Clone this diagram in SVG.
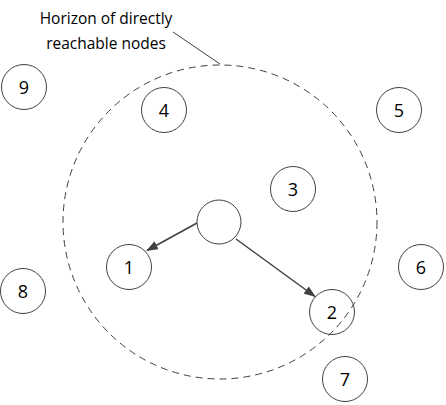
<svg xmlns="http://www.w3.org/2000/svg" width="446" height="405" viewBox="0 0 446 405">
<style>
.n{fill:#fff;stroke:#404040;stroke-width:1}
.t{font-family:"Open Sans","Liberation Sans",sans-serif;font-size:18px;fill:#000;text-anchor:middle;dominant-baseline:central}
.lbl{font-family:"Open Sans","Liberation Sans",sans-serif;font-size:15.5px;fill:#000;text-anchor:middle}
.c{stroke:#404040;stroke-width:1.5;fill:none}
</style>
<defs>
<marker id="ah" markerWidth="12" markerHeight="9" refX="11" refY="4.5" orient="auto" markerUnits="userSpaceOnUse">
<path d="M0,0 L12,4.5 L0,9 z" fill="#404040"/>
</marker>
</defs>
<rect width="446" height="405" fill="#fff"/>
<g id="label">
<text class="lbl" x="106" y="24">Horizon of directly</text>
<text class="lbl" x="106" y="49">reachable nodes</text>
<line x1="173" y1="32" x2="220" y2="64" stroke="#404040" stroke-width="1"/>
</g>
<g id="connectors">
<line class="c" x1="197" y1="223" x2="147" y2="250.5" marker-end="url(#ah)"/>
<line class="c" x1="236" y1="239" x2="315" y2="296.5" marker-end="url(#ah)"/>
</g>
<g id="n0"><circle class="n" cx="219" cy="222" r="22"/></g>
<g id="n1"><circle class="n" cx="129" cy="267" r="22.5"/><text class="t" x="129" y="267">1</text></g>
<g id="n2"><circle class="n" cx="332" cy="312" r="22.5"/><text class="t" x="332" y="312">2</text></g>
<g id="n3"><circle class="n" cx="293" cy="189" r="22.5"/><text class="t" x="293" y="189">3</text></g>
<g id="n4"><circle class="n" cx="164" cy="110" r="22.5"/><text class="t" x="164" y="110">4</text></g>
<g id="n5"><circle class="n" cx="399" cy="110" r="22.5"/><text class="t" x="399" y="110">5</text></g>
<g id="n6"><circle class="n" cx="421" cy="267" r="22.5"/><text class="t" x="421" y="267">6</text></g>
<g id="n7"><circle class="n" cx="345" cy="379" r="22.5"/><text class="t" x="345" y="379">7</text></g>
<g id="n8"><circle class="n" cx="23" cy="291" r="22.5"/><text class="t" x="23" y="291">8</text></g>
<g id="n9"><circle class="n" cx="24" cy="87" r="22.5"/><text class="t" x="24" y="87">9</text></g>
<g id="horizon"><circle cx="220" cy="222" r="157" fill="none" stroke="#404040" stroke-width="1" stroke-dasharray="7,5"/></g>
</svg>
